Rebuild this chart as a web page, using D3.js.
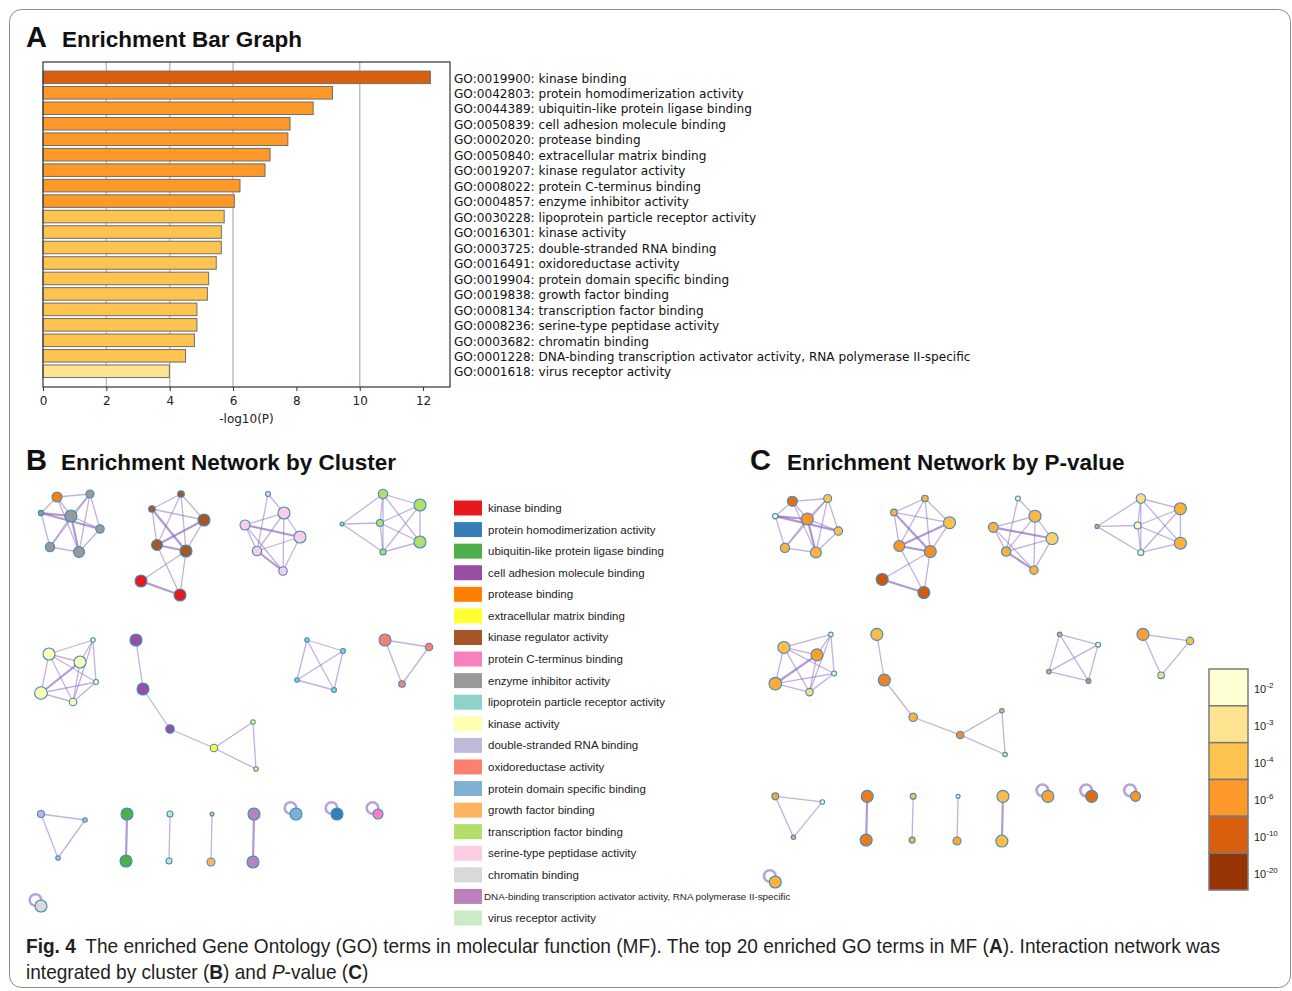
<!DOCTYPE html>
<html>
<head>
<meta charset="utf-8">
<script src="https://cdn.jsdelivr.net/npm/d3@7"></script>
<style>
  body { margin: 0; background: #fff; }
  svg { display: block; }
</style>
</head>
<body>
<svg id="fig" width="1292" height="991"></svg>
<script>
// ---------- data ----------
const goIds = ["GO:0019900","GO:0042803","GO:0044389","GO:0050839","GO:0002020",
  "GO:0050840","GO:0019207","GO:0008022","GO:0004857","GO:0030228",
  "GO:0016301","GO:0003725","GO:0016491","GO:0019904","GO:0019838",
  "GO:0008134","GO:0008236","GO:0003682","GO:0001228","GO:0001618"];
const goNames = ["kinase binding","protein homodimerization activity","ubiquitin-like protein ligase binding",
  "cell adhesion molecule binding","protease binding","extracellular matrix binding",
  "kinase regulator activity","protein C-terminus binding","enzyme inhibitor activity",
  "lipoprotein particle receptor activity","kinase activity","double-stranded RNA binding",
  "oxidoreductase activity","protein domain specific binding","growth factor binding",
  "transcription factor binding","serine-type peptidase activity","chromatin binding",
  "DNA-binding transcription activator activity, RNA polymerase II-specific","virus receptor activity"];
// -log10(P) of each term
const logP = [12.23, 9.14, 8.53, 7.80, 7.73, 7.17, 7.01, 6.22, 6.04, 5.72,
              5.63, 5.63, 5.47, 5.23, 5.19, 4.86, 4.86, 4.78, 4.50, 3.99];
const xTicks = [0, 2, 4, 6, 8, 10, 12];
const gridTicks = [2, 4, 6, 10];
const clusterColors = ["#e41a1c","#377eb8","#4daf4a","#984ea3","#ff7f00","#ffff33","#a65628",
  "#f781bf","#999999","#8dd3c7","#ffffb3","#bebada","#fb8072","#80b1d3","#fdb462",
  "#b3de69","#fccde5","#d9d9d9","#bc80bd","#ccebc5"];
// P-value colour key: -log10 break points, exponents shown, colours
const pBreaks = [2, 3, 4, 6, 10, 20];
const pExponents = ["-2", "-3", "-4", "-6", "-10", "-20"];
const pColors = ["#ffffd4", "#fee391", "#fec44f", "#fe9929", "#d95f0e", "#993404"];

// network nodes: [id, term index, layout x, layout y, gene count, -log10(P)]
const nodes = [
  ["a1",4,16,3,25,9.0],["a2",8,49,0,16,4.2],["a3",8,0,19,7,2.3],["a4",8,30,22,36,6.3],
  ["a5",8,59,35,18,4.3],["a6",8,9,53,22,5.0],["a7",8,38,58,30,5.0],
  ["b1",6,140,0,11,5.0],["b2",6,111,15,11,5.0],["b3",6,163,26,36,4.2],["b4",6,116,51,30,6.3],
  ["b5",6,145,57,36,6.8],["b6",0,100,87,36,12.2],["b7",0,139,101,36,11.0],
  ["c1",16,227,0,6,2.2],["c2",16,243,19,36,4.6],["c3",16,204,31,25,5.0],["c4",16,259,43,36,3.6],
  ["c5",16,216,57,22,5.0],["c6",16,242,77,18,5.0],
  ["d1",15,301,30,4,5.0],["d2",15,342,0,22,3.2],["d3",15,339,29,12,2.3],["d4",15,342,58,9,2.4],
  ["d5",15,379,11,36,5.0],["d6",15,379,48,36,5.0],
  ["e1",10,8,160,36,4.3],["e2",10,39,168,36,5.8],["e3",10,52,146,5,2.2],["e4",10,55,188,6,2.3],
  ["e5",10,0,199,40,5.2],["e6",10,32,208,14,3.3],
  ["f1",3,95,146,36,4.4],["f2",3,102,195,36,7.5],["f3",3,129,235,18,5.0],
  ["f4",5,173,254,14,7.0],["f5",5,212,228,5,4.8],["f6",5,215,275,5,3.2],
  ["g1",9,266,146,5,5.0],["g2",9,302,157,6,2.4],["g3",9,256,186,5,5.0],["g4",9,293,196,6,6.5],
  ["h1",12,344,146,36,5.7],["h2",12,388,153,14,4.2],["h3",12,361,190,11,3.2],
  ["i1",11,0,320,12,5.6],["i2",11,44,326,5,2.2],["i3",11,17,364,5,4.8],
  ["j1",2,86,320,36,8.0],["j2",2,85,367,36,8.0],
  ["k1",19,129,320,9,4.2],["k2",19,128,367,9,4.6],
  ["l1",14,171,320,4,2.6],["l2",14,170,368,16,5.5],
  ["m1",18,213,320,36,4.4],["m2",18,212,368,36,4.4],
  ["n1",13,255,320,36,5.6],["n2",1,296,320,36,9.1],["n3",7,337,320,25,6.3],["n4",17,0,412,36,5.0]
];
// network edges: [source, target, similarity weight]; source == target is a self-loop
const edges = [
  ["a1","a2",1],["a1","a4",1],["a1","a7",1],["a1","a3",1],["a2","a4",1],["a2","a5",1],["a2","a6",1],
  ["a2","a7",1],["a3","a4",2],["a3","a5",2],["a3","a6",1],["a4","a5",1],["a4","a6",1],["a4","a7",2],
  ["a5","a7",1],["a6","a7",1],
  ["b1","b2",1],["b1","b3",1],["b1","b4",1],["b1","b5",1],["b2","b3",1],["b2","b4",1],["b2","b5",2],
  ["b3","b4",2],["b3","b5",1],["b4","b5",2],["b6","b5",1],["b4","b7",1],["b5","b7",1],["b6","b7",2],
  ["c1","c2",1],["c1","c5",1],["c2","c3",1],["c2","c4",1],["c2","c5",1],["c2","c6",1],["c3","c4",2],
  ["c3","c5",1],["c3","c6",1],["c4","c6",1],["c4","c5",1],["c5","c6",2],
  ["d1","d2",1],["d1","d3",1],["d1","d4",1],["d2","d3",1],["d2","d4",1],["d2","d5",1],["d2","d6",1],
  ["d3","d5",1],["d3","d6",1],["d4","d5",1],["d4","d6",1],["d5","d6",1],["d3","d4",1],
  ["e1","e3",1],["e1","e2",1],["e1","e5",1],["e1","e6",1],["e1","e4",1],["e2","e5",2],["e2","e6",1],
  ["e2","e3",1],["e3","e6",1],["e3","e4",1],["e4","e5",1],["e4","e6",1],["e5","e6",1],
  ["f1","f2",1],["f2","f3",1],["f3","f4",1],["f4","f5",1],["f4","f6",1],["f5","f6",1],
  ["g1","g2",1],["g1","g3",1],["g1","g4",1],["g2","g3",1],["g2","g4",1],["g3","g4",1],
  ["h1","h2",1],["h1","h3",1],["h2","h3",1],
  ["i1","i2",1],["i1","i3",1],["i2","i3",1],
  ["j1","j2",2],["k1","k2",1],["l1","l2",1],["m1","m2",2],
  ["n1","n1",2],["n2","n2",2],["n3","n3",2],["n4","n4",2]
];

// ---------- drawing ----------
const svg = d3.select("#fig");
const SANS = "'Liberation Sans', Arial, Helvetica, sans-serif";
const DEJAVU = "'DejaVu Sans', sans-serif";

// outer frame
svg.append("rect")
  .attr("x", 9.5).attr("y", 9.5).attr("width", 1281).attr("height", 978).attr("rx", 12)
  .attr("fill", "none").attr("stroke", "#8c8c8c").attr("stroke-width", 1);

function panelTitle(letter, title, xl, xt, yb) {
  svg.append("text").attr("x", xl).attr("y", yb)
    .attr("font-family", SANS).attr("font-weight", "bold").attr("font-size", 29)
    .attr("fill", "#111").text(letter);
  svg.append("text").attr("x", xt).attr("y", yb)
    .attr("font-family", SANS).attr("font-weight", "bold").attr("font-size", 22.5)
    .attr("fill", "#111").text(title);
}
panelTitle("A", "Enrichment Bar Graph", 26, 62, 47);
panelTitle("B", "Enrichment Network by Cluster", 26, 61, 470);
panelTitle("C", "Enrichment Network by P-value", 750, 787, 470);

// ---------- A: bar graph ----------
const barColor = d3.scaleThreshold().domain(pBreaks.slice(1)).range(pColors);
const x = d3.scaleLinear().domain([0, 12.85]).range([43, 450]);
const y = d3.scaleBand().domain(d3.range(logP.length)).range([69.6, 379])
  .paddingInner(0.19).paddingOuter(0.095);
const plotTop = 62, plotBottom = 387;
const gA = svg.append("g");

gA.selectAll("line.grid").data(gridTicks).join("line").attr("class", "grid")
  .attr("x1", d => x(d)).attr("x2", d => x(d)).attr("y1", plotTop).attr("y2", plotBottom)
  .attr("stroke", "#bdbdbd").attr("stroke-width", 1.5);

gA.selectAll("rect.bar").data(logP).join("rect").attr("class", "bar")
  .attr("x", x(0)).attr("y", (d, i) => y(i))
  .attr("width", d => x(d) - x(0)).attr("height", y.bandwidth())
  .attr("fill", d => barColor(d)).attr("stroke", "#6e6e6e").attr("stroke-width", 1);

gA.append("rect").attr("x", x.range()[0]).attr("y", plotTop)
  .attr("width", x.range()[1] - x.range()[0]).attr("height", plotBottom - plotTop)
  .attr("fill", "none").attr("stroke", "#333").attr("stroke-width", 1.2);

const ax = gA.append("g").attr("transform", `translate(0,${plotBottom})`)
  .call(d3.axisBottom(x).tickValues(xTicks).tickSize(4).tickPadding(5).tickSizeOuter(0));
ax.select(".domain").remove();
ax.selectAll("line").attr("stroke", "#333");
ax.selectAll("text").attr("font-family", DEJAVU).attr("font-size", 12).attr("fill", "#222");
gA.append("text").attr("x", (x(0) + x(12.85)) / 2).attr("y", 423)
  .attr("text-anchor", "middle").attr("font-family", DEJAVU).attr("font-size", 12)
  .attr("fill", "#222").text("-log10(P)");

gA.selectAll("text.go").data(goIds).join("text").attr("class", "go")
  .attr("x", 454).attr("y", (d, i) => y(i) + y.bandwidth() / 2 + 0.6).attr("dy", "0.38em")
  .attr("font-family", DEJAVU).attr("font-size", 12.1).attr("fill", "#111")
  .text((d, i) => `${d}: ${goNames[i]}`);

// ---------- networks ----------
const nodeObjs = nodes.map(([id, term, lx, ly, genes, lp]) => ({ id, term, lx, ly, genes, lp }));
const byId = new Map(nodeObjs.map(n => [n.id, n]));
const radius = d3.scaleSqrt().domain([0, 36]).range([0, 6]);
const pColor = d3.scaleLinear().domain(pBreaks).range(pColors).clamp(true);

function drawNetwork(xr, yr, fillFn) {
  const sx = d3.scaleLinear().domain([0, 388]).range(xr);
  const sy = d3.scaleLinear().domain([0, 412]).range(yr);
  const g = svg.append("g");
  const links = edges.filter(e => e[0] !== e[1]);
  const loops = edges.filter(e => e[0] === e[1]);
  g.selectAll("line").data(links).join("line")
    .attr("x1", e => sx(byId.get(e[0]).lx)).attr("y1", e => sy(byId.get(e[0]).ly))
    .attr("x2", e => sx(byId.get(e[1]).lx)).attr("y2", e => sy(byId.get(e[1]).ly))
    .attr("stroke", "#8563bb").attr("stroke-opacity", e => e[2] > 1 ? 0.65 : 0.5)
    .attr("stroke-width", e => e[2] > 1 ? 2.2 : 1.3);
  g.selectAll("circle.loop").data(loops).join("circle").attr("class", "loop")
    .attr("cx", e => sx(byId.get(e[0]).lx) - 5.5).attr("cy", e => sy(byId.get(e[0]).ly) - 6)
    .attr("r", 5.8).attr("fill", "none")
    .attr("stroke", "#a68bd1").attr("stroke-opacity", 0.8).attr("stroke-width", 2.6);
  g.selectAll("circle.node").data(nodeObjs).join("circle").attr("class", "node")
    .attr("cx", n => sx(n.lx)).attr("cy", n => sy(n.ly)).attr("r", n => radius(n.genes))
    .attr("fill", fillFn).attr("stroke", "#3f8bbd").attr("stroke-width", 1.1);
}
drawNetwork([41, 429], [494, 906], n => clusterColors[n.term]);
drawNetwork([775.3, 1190], [498.5, 882], n => pColor(n.lp));

// ---------- B: cluster legend ----------
const ly = d3.scalePoint().domain(d3.range(goNames.length)).range([508, 918]);
const gL = svg.append("g");
gL.selectAll("rect").data(goNames).join("rect")
  .attr("x", 454).attr("y", (d, i) => ly(i) - 7.5).attr("width", 28).attr("height", 15)
  .attr("fill", (d, i) => clusterColors[i]);
gL.selectAll("text").data(goNames).join("text")
  .attr("x", d => d.length > 50 ? 484 : 488).attr("y", (d, i) => ly(i)).attr("dy", "0.35em")
  .attr("font-family", SANS).attr("font-size", d => d.length > 50 ? 9.8 : 11.5)
  .attr("fill", "#222").text(d => d);

// ---------- C: P-value colour key ----------
const ky = d3.scaleBand().domain(d3.range(pColors.length)).range([669, 890]);
const gK = svg.append("g");
gK.selectAll("rect").data(pColors).join("rect")
  .attr("x", 1209).attr("y", (d, i) => ky(i)).attr("width", 39).attr("height", ky.bandwidth())
  .attr("fill", d => d).attr("stroke", "#7a7a7a").attr("stroke-width", 1.5);
const kt = gK.selectAll("text").data(pExponents).join("text")
  .attr("x", 1254).attr("y", (d, i) => ky(i) + ky.bandwidth() / 2 + 6)
  .attr("font-family", SANS).attr("font-size", 11).attr("fill", "#222");
kt.append("tspan").text("10");
kt.append("tspan").attr("dy", -5).attr("font-size", 8).text(d => d);

// ---------- caption ----------
const cap = svg.append("g").attr("font-family", SANS).attr("font-size", 21).attr("fill", "#231f20");
function captionLine(parts, yb) {
  const t = cap.append("text").attr("x", 0).attr("y", yb);
  parts.forEach(([s, style]) => {
    const sp = t.append("tspan").text(s);
    if (style === "b") sp.attr("font-weight", "bold");
    if (style === "i") sp.attr("font-style", "italic");
  });
  return t;
}
const l1 = captionLine([["Fig. 4", "b"],
  ["\u2002The enriched Gene Ontology (GO) terms in molecular function (MF). The top 20 enriched GO terms in MF ("],
  ["A", "b"], ["). Interaction network was"]], 953);
captionLine([["integrated by cluster ("], ["B", "b"], [") and "], ["P", "i"], ["-value ("], ["C", "b"], [")"]], 979);
const k = 1195 / l1.node().getComputedTextLength();
cap.attr("transform", `translate(26,0) scale(${k},1)`);
</script>
</body>
</html>
